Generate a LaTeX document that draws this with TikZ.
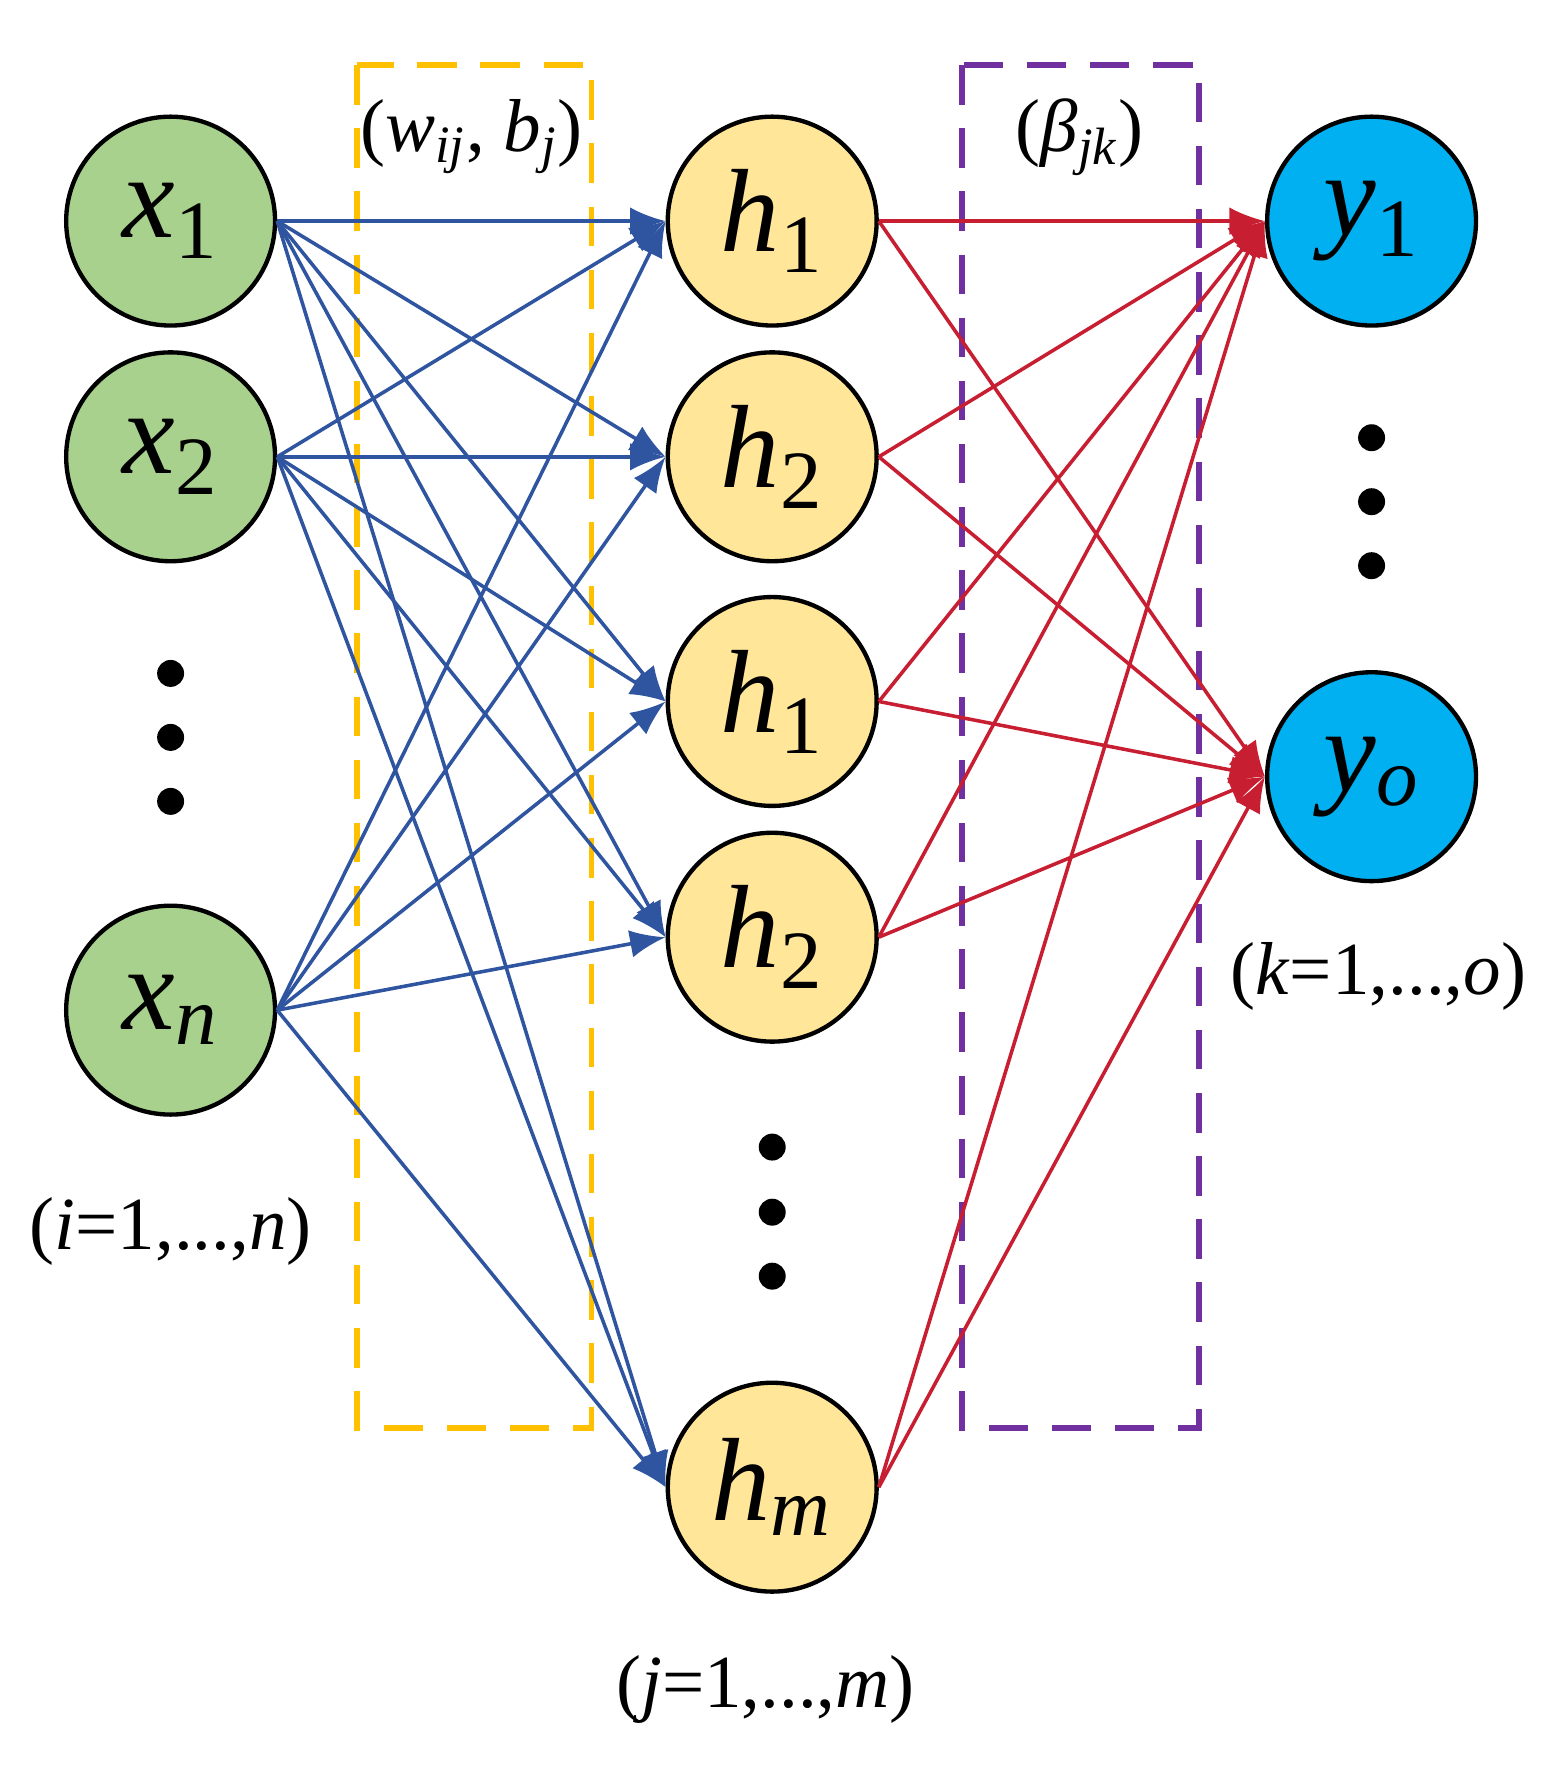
\documentclass[tikz,border=0pt]{standalone}
\usepackage{fontspec}
\setmainfont{Liberation Serif}
\usetikzlibrary{arrows.meta}
\definecolor{eb}{RGB}{47,85,160}
\definecolor{er}{RGB}{200,30,50}
\definecolor{gf}{RGB}{169,209,142}
\definecolor{yf}{RGB}{255,230,153}
\definecolor{bf}{RGB}{0,176,240}
\definecolor{yb}{RGB}{255,192,0}
\definecolor{pb}{RGB}{112,48,160}
\newcommand{\lowsub}[1]{\textsubscript{#1}}
\begin{document}
\begin{tikzpicture}[x=0.01cm,y=-0.01cm,
  neu/.style={circle,draw=black,line width=1.1pt,minimum size=1.86cm,inner sep=0pt,font=\fontsize{30}{32}\selectfont},
  dot/.style={circle,fill=black,minimum size=0.24cm,inner sep=0pt},
  be/.style={draw=eb,line width=0.9pt,-{Latex[length=9pt,width=7pt]}},
  re/.style={draw=er,line width=0.9pt,-{Latex[length=9pt,width=7pt]}},
  lab/.style={font=\fontsize{19}{22}\selectfont}]
\useasboundingbox (0,0) rectangle (1390,1577);
\node[neu,fill=gf] (x1) at (152,197) {\textit{x}\lowsub{1}};
\node[neu,fill=gf] (x2) at (152,407) {\textit{x}\lowsub{2}};
\node[neu,fill=gf] (xn) at (152,900) {\textit{x}\lowsub{\textit{n}}};
\node[neu,fill=yf] (h1) at (688,197) {\textit{h}\lowsub{1}};
\node[neu,fill=yf] (h2) at (688,407) {\textit{h}\lowsub{2}};
\node[neu,fill=yf] (h3) at (688,625) {\textit{h}\lowsub{1}};
\node[neu,fill=yf] (h4) at (688,835) {\textit{h}\lowsub{2}};
\node[neu,fill=yf] (hm) at (688,1325) {\textit{h}\lowsub{\textit{m}}};
\node[neu,fill=bf] (y1) at (1222,197) {\textit{y}\lowsub{1}};
\node[neu,fill=bf] (yo) at (1222,692) {\textit{y}\lowsub{\textit{o}}};
\foreach \n/\x/\y in {a1/152/600,a2/152/657,a3/152/714,b1/688/1022,b2/688/1080,b3/688/1137,c1/1222/390,c2/1222/447,c3/1222/504}
  \node[dot] (\n) at (\x,\y) {};
\draw[yb,line width=1.5pt,dash pattern=on 10pt off 6pt] (318,58) rectangle (527,1272);
\draw[pb,line width=1.5pt,dash pattern=on 10pt off 6pt] (857,58) rectangle (1068,1272);
\foreach \i in {x1,x2,xn}
  \foreach \j in {h1,h2,h3,h4,hm}
    \draw[be] (\i.east) -- (\j.west);
\foreach \j in {h1,h2,h3,h4,hm}
  \foreach \k in {y1,yo}
    \draw[re] (\j.east) -- (\k.west);
\node[lab] (l1) at (420,122) {(\textit{w}\lowsub{\textit{ij}}, \textit{b}\lowsub{\textit{j}})};
\node[lab] (l2) at (962,122) {(\textit{β}\lowsub{\textit{jk}})};
\node[lab] (l3) at (152,1097) {(\textit{i}=1,...,\textit{n})};
\node[lab] (l4) at (682,1505) {(\textit{j}=1,...,\textit{m})};
\node[lab] (l5) at (1228,870) {(\textit{k}=1,...,\textit{o})};
\end{tikzpicture}
\end{document}
